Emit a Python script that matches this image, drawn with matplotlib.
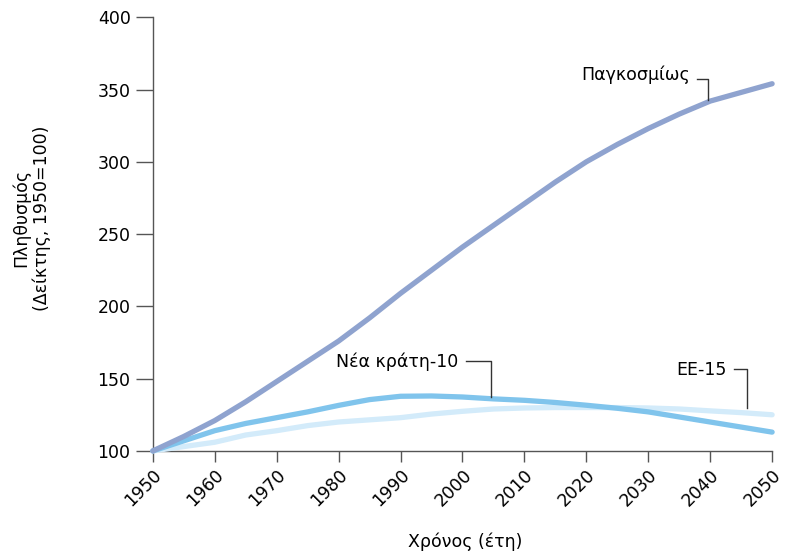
import matplotlib.pyplot as plt

years = [1950, 1955, 1960, 1965, 1970, 1975, 1980, 1985, 1990, 1995, 2000,
         2005, 2010, 2015, 2020, 2025, 2030, 2035, 2040, 2045, 2050]
world = [100, 110, 121, 134, 148, 162, 176, 192, 209, 225, 241,
         256, 271, 286, 300, 312, 323, 333, 342, 348, 354]
new10 = [100, 107, 114, 119, 123, 127, 131.5, 135.5, 137.8, 138, 137.3,
         136, 135, 133.5, 131.6, 129.5, 127, 123.5, 120, 116.5, 113]
eu15 = [100, 103, 106, 111, 114, 117.5, 120, 121.5, 123, 125.5, 127.4,
        129, 129.7, 130, 130, 130, 129.7, 129, 127.7, 126.5, 125]

c_world = '#8fa3cf'
c_new = '#80c4ec'
c_eu = '#d3ebfa'
fs = 12.5

fig = plt.figure(figsize=(7.96, 5.56), dpi=100)
ax = fig.add_axes([0.192, 0.189, 0.778, 0.780])

ax.plot(years, eu15, color=c_eu, lw=3.8, solid_capstyle='round', clip_on=False, zorder=3)
ax.plot(years, new10, color=c_new, lw=3.8, solid_capstyle='round', clip_on=False, zorder=4)
ax.plot(years, world, color=c_world, lw=3.8, solid_capstyle='round', clip_on=False, zorder=5)

ax.set_xlim(1950, 2050)
ax.set_ylim(100, 400)
ax.set_xticks(range(1950, 2051, 10))
ax.set_yticks(range(100, 401, 50))
ax.set_xticklabels([str(y) for y in range(1950, 2051, 10)], rotation=45,
                   ha='right', va='top', rotation_mode='anchor')

for s in ['top', 'right']:
    ax.spines[s].set_visible(False)
for s in ['left', 'bottom']:
    ax.spines[s].set_color('#555555')
    ax.spines[s].set_linewidth(1)
ax.tick_params(axis='y', length=12, width=1, color='#555555', labelsize=fs, pad=4)
ax.tick_params(axis='x', length=8, width=1, color='#555555', labelsize=fs, pad=3)

ax.set_xlabel('Χρόνος (έτη)', fontsize=fs)
ax.xaxis.set_label_coords(0.504, -0.187)
ax.set_ylabel('Πληθυσμός\n(Δείκτης, 1950=100)', fontsize=fs, va='center')
ax.yaxis.set_label_coords(-0.196, 0.537)

# leader lines with labels
def leader(text, tx, ty, ly, x1, x2, y2):
    ax.text(tx, ty, text, fontsize=fs, ha='right', va='center')
    ax.plot([x1, x2, x2], [ly, ly, y2], color='#333333', lw=1, zorder=6)

leader('Παγκοσμίως', 2036.8, 360, 357.5, 2037.9, 2039.7, 343)
leader('Νέα κράτη-10', 1999.3, 161.5, 162, 2000.6, 2004.6, 137.5)
leader('ΕΕ-15', 2042.7, 156, 156.5, 2043.9, 2046, 129.5)

fig.savefig('out.png', dpi=100)
